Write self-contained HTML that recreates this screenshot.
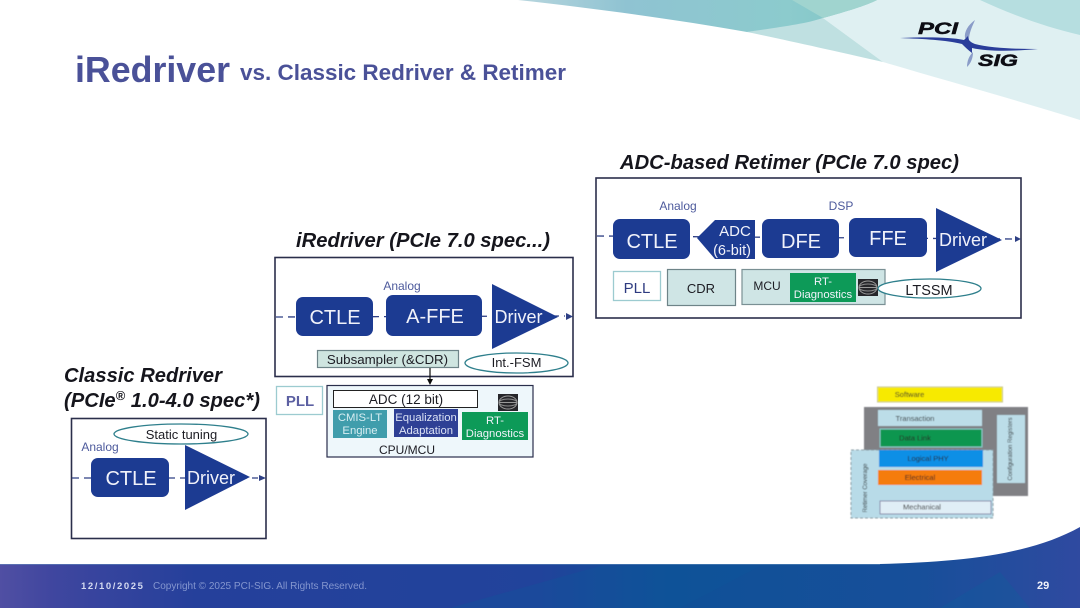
<!DOCTYPE html>
<html><head><meta charset="utf-8"><style>
html,body{margin:0;padding:0;background:#fff;width:1080px;height:608px;overflow:hidden}
svg{display:block}
text{font-family:"Liberation Sans",sans-serif}
.w{fill:#f0f2fa;text-anchor:middle}
.k{fill:#1c1c24;text-anchor:middle}
.h{font-weight:bold;font-style:italic;fill:#15151c;font-size:20.5px}
.a{fill:#4d5a9c;font-size:12px;text-anchor:middle}
.n{fill:#1f3a92}
.d{stroke:#2f3f85;stroke-width:1.3;stroke-dasharray:7 5;fill:none}
.b{fill:#fff;stroke:#2c2d4c;stroke-width:1.6}
.e{fill:#fff;stroke:#2f7f8c;stroke-width:1.3}
.s{font-size:7.5px;fill:#222;text-anchor:middle}
</style></head><body>
<svg width="1080" height="608" viewBox="0 0 1080 608" xmlns="http://www.w3.org/2000/svg">
<defs>
<linearGradient id="t" x1="0" x2="1" y1="0" y2="0"><stop offset="0" stop-color="#b8d6de"/><stop offset=".3" stop-color="#8fc3d2"/><stop offset=".75" stop-color="#8ccbcd"/><stop offset="1" stop-color="#7fc4c4"/></linearGradient>
<linearGradient id="f" x1="0" x2="1" y1="0" y2="0"><stop offset="0" stop-color="#504fa3"/><stop offset=".05" stop-color="#3f469f"/><stop offset=".18" stop-color="#25409b"/><stop offset=".5" stop-color="#21439b"/><stop offset=".62" stop-color="#0f5097"/><stop offset=".85" stop-color="#174f9a"/><stop offset="1" stop-color="#2f4aa0"/></linearGradient>
<filter id="bl"><feGaussianBlur stdDeviation=".5"/></filter>
<filter id="bs"><feGaussianBlur stdDeviation=".3"/></filter>
<g id="eye"><rect width="20" height="17" fill="#26262a"/><ellipse cx="10" cy="8.5" rx="9" ry="6.5" fill="none" stroke="#9a9a9a" stroke-width="1"/><ellipse cx="10" cy="8.5" rx="9" ry="3.5" fill="none" stroke="#8a8a8a" stroke-width="1"/><line x1="1" x2="19" y1="8.5" y2="8.5" stroke="#999" stroke-width="1"/></g>
</defs>

<!-- top swooshes -->
<path d="M792 0 L1080 0 L1080 120 C1010 98 940 79 883 62 L823 18 Z" fill="#dff0f2"/>
<path d="M747 32 L823 18 L883 62 C830 50 790 41 747 32 Z" fill="#bfe0e1"/>
<path d="M518 0 C600 9 680 20 747 32 C780 27 805 24 823 18 C848 11 865 6 877 0 Z" fill="url(#t)"/>
<path d="M792 0 L877 0 C865 6 848 11 823 18 Z" fill="#a0d4cf"/>
<path d="M980 0 C1010 14 1045 27 1080 35 L1080 0 Z" fill="#b6dee0"/>

<!-- logo -->
<g filter="url(#bs)">
<path d="M975 20 C968 25 964 32 965 38 L969 40 C969 33 972 27 975 20 Z" fill="#8a9cc8"/>
<path d="M973 52 C969 56 967 61 967 67 C971 63 973 58 973 52 Z" fill="#8a9cc8"/>
<path d="M900 38 C925 37 950 37 964 40 L968 36 C968 40 970 42 975 44 C990 48 1015 49 1038 49 C1015 51 990 52 972 48 L972 53 C968 50 965 47 962 44 C945 40 925 39 900 38 Z" fill="#2a3d9a"/>
</g>
<text x="918" y="34" font-size="16.7" font-weight="bold" font-style="italic" fill="#0d0d14" stroke="#0d0d14" stroke-width=".5" textLength="40" lengthAdjust="spacingAndGlyphs">PCI</text>
<text x="978" y="66" font-size="16.7" font-weight="bold" font-style="italic" fill="#0d0d14" stroke="#0d0d14" stroke-width=".5" textLength="40" lengthAdjust="spacingAndGlyphs">SIG</text>

<!-- title -->
<text x="75" y="82" font-size="35.7" font-weight="bold" fill="#4a5198" textLength="155" lengthAdjust="spacingAndGlyphs">iRedriver</text>
<text x="240" y="80" font-size="22" font-weight="bold" fill="#4a5198" textLength="326" lengthAdjust="spacingAndGlyphs">vs. Classic Redriver &amp; Retimer</text>

<!-- headings -->
<text class="h" x="620" y="169" textLength="339" lengthAdjust="spacingAndGlyphs">ADC-based Retimer (PCIe 7.0 spec)</text>
<text class="h" x="296" y="247" textLength="254" lengthAdjust="spacingAndGlyphs">iRedriver (PCIe 7.0 spec...)</text>
<text class="h" x="64" y="382" textLength="158" lengthAdjust="spacingAndGlyphs">Classic Redriver</text>
<text class="h" x="64" y="407" textLength="196" lengthAdjust="spacingAndGlyphs">(PCIe<tspan font-size="13" dy="-7">®</tspan><tspan dy="7"> 1.0-4.0 spec*)</tspan></text>

<g filter="url(#bs)">
<!-- Retimer -->
<rect class="b" x="596" y="178" width="425" height="140"/>
<line class="d" x1="597" x2="1014" y1="236" y2="239"/>
<path d="M1015 236 L1021 239 L1015 242 Z" fill="#2f3f85"/>
<text class="a" x="678" y="210">Analog</text>
<text class="a" x="841" y="210">DSP</text>
<rect class="n" x="613" y="219" width="77" height="40" rx="7"/>
<text class="w" x="652" y="248" font-size="20">CTLE</text>
<path class="n" d="M697 238 L715 220 L755 220 L755 259 L715 259 Z"/>
<text class="w" x="735" y="236" font-size="15">ADC</text>
<text class="w" x="732" y="255" font-size="14.5">(6-bit)</text>
<rect class="n" x="762" y="219" width="77" height="39" rx="7"/>
<text class="w" x="801" y="248" font-size="20">DFE</text>
<rect class="n" x="849" y="218" width="78" height="39" rx="7"/>
<text class="w" x="888" y="245" font-size="20">FFE</text>
<path class="n" d="M936 208 L1002 240 L936 272 Z"/>
<text class="w" x="963" y="246" font-size="18">Driver</text>
<rect x="613.5" y="271.5" width="47" height="29" fill="#fff" stroke="#9ccbd0" stroke-width="1.3"/>
<text x="637" y="293" font-size="15" fill="#2d3a80" text-anchor="middle">PLL</text>
<rect x="667.5" y="269.5" width="68" height="36" fill="#cfe5e5" stroke="#6e8488" stroke-width="1.2"/>
<text class="k" x="701" y="293" font-size="13">CDR</text>
<rect x="742" y="269.5" width="143" height="35" fill="#cfe5e5" stroke="#7a9094" stroke-width="1.2"/>
<text class="k" x="767" y="290" font-size="12">MCU</text>
<rect x="790" y="273" width="66" height="29" fill="#0f9a58"/>
<text class="w" x="823" y="285" font-size="11.3">RT-</text>
<text class="w" x="823" y="298" font-size="11.3">Diagnostics</text>
<use href="#eye" transform="translate(858,279)"/>
<ellipse class="e" cx="929.5" cy="288.5" rx="51.5" ry="9.5"/>
<text class="k" x="929" y="295" font-size="14.5">LTSSM</text>

<!-- iRedriver -->
<rect class="b" x="275" y="257.5" width="298" height="119"/>
<line class="d" x1="276" x2="565" y1="317" y2="316"/>
<path d="M566 313 L573 316.5 L566 320 Z" fill="#2f3f85"/>
<text class="a" x="402" y="290">Analog</text>
<rect class="n" x="296" y="297" width="77" height="39" rx="7"/>
<text class="w" x="335" y="324" font-size="20">CTLE</text>
<rect class="n" x="386" y="295" width="96" height="41" rx="7"/>
<text class="w" x="435" y="323" font-size="20">A-FFE</text>
<path class="n" d="M492 284 L558 317 L492 349 Z"/>
<text class="w" x="518.5" y="323" font-size="18">Driver</text>
<rect x="317.5" y="350.5" width="141" height="17" fill="#cfe5e0" stroke="#6e8488" stroke-width="1.2"/>
<text class="k" x="387.5" y="364" font-size="13.3">Subsampler (&amp;CDR)</text>
<ellipse class="e" cx="516.5" cy="363" rx="51.5" ry="10"/>
<text class="k" x="516.5" y="367" font-size="13">Int.-FSM</text>
<line x1="430" x2="430" y1="368" y2="380" stroke="#111" stroke-width="1.2"/>
<path d="M427 379 L433 379 L430 385 Z" fill="#111"/>
<rect x="276.5" y="386.5" width="46" height="28" fill="#fff" stroke="#9ccbd0" stroke-width="1.3"/>
<text x="300" y="406" font-size="15" font-weight="bold" fill="#4a5198" text-anchor="middle" opacity=".9">PLL</text>
<rect x="327" y="385.5" width="206" height="71.5" fill="#eef7fb" stroke="#2c2d4c" stroke-width="1.2"/>
<rect x="333.5" y="390.5" width="144" height="17" fill="#fff" stroke="#222" stroke-width="1"/>
<text class="k" x="406" y="404" font-size="13.5">ADC (12 bit)</text>
<use href="#eye" transform="translate(498,394)"/>
<rect x="333" y="410" width="54" height="28" fill="#3f9dac"/>
<text x="360" y="421" font-size="11.3" fill="#d8eef2" text-anchor="middle">CMIS-LT</text>
<text x="360" y="434" font-size="11.3" fill="#d8eef2" text-anchor="middle">Engine</text>
<rect x="394" y="409" width="64" height="28" fill="#2d3f95"/>
<text x="426" y="421" font-size="11.3" fill="#dbe2f5" text-anchor="middle">Equalization</text>
<text x="426" y="434" font-size="11.3" fill="#dbe2f5" text-anchor="middle">Adaptation</text>
<rect x="462" y="412" width="66" height="28" fill="#0f9a58"/>
<text class="w" x="495" y="424" font-size="11.3">RT-</text>
<text class="w" x="495" y="437" font-size="11.3">Diagnostics</text>
<text class="k" x="407" y="454" font-size="12">CPU/MCU</text>

<!-- Classic -->
<rect class="b" x="71.5" y="418.5" width="194.5" height="120"/>
<line class="d" x1="72" x2="258" y1="478" y2="478"/>
<path d="M259 475 L266 478 L259 481 Z" fill="#2f3f85"/>
<text class="a" x="100" y="451">Analog</text>
<rect class="n" x="91" y="458" width="78" height="39" rx="7"/>
<text class="w" x="131" y="485" font-size="20">CTLE</text>
<path class="n" d="M185 445 L250 477 L185 510 Z"/>
<text class="w" x="211" y="484" font-size="18">Driver</text>
<ellipse class="e" cx="181" cy="434" rx="67" ry="10"/>
<text class="k" x="181.5" y="439" font-size="13">Static tuning</text>
</g>

<!-- stack -->
<g filter="url(#bl)">
<rect x="877.5" y="387" width="125" height="15" fill="#f7ea00" stroke="#c9c98a"/>
<text class="s" x="909.5" y="397">Software</text>
<rect x="864" y="407" width="164" height="89" fill="#808084"/>
<rect x="878" y="410" width="104" height="16" fill="#bcdde8"/>
<text class="s" x="915" y="421">Transaction</text>
<rect x="880" y="429" width="102" height="18" fill="#0b9650" stroke="#8cc"/>
<text class="s" x="915" y="440.5">Data Link</text>
<rect x="997" y="415" width="28" height="68" fill="#bcdde8"/>
<text class="s" transform="translate(1012,449) rotate(-90)" textLength="63" lengthAdjust="spacingAndGlyphs" style="font-size:6.5px">Configuration Registers</text>
<rect x="851" y="450" width="142" height="68" fill="#b8dbe8" stroke="#8a9aa0" stroke-dasharray="3 2"/>
<text class="s" transform="translate(867,488) rotate(-90)" textLength="49" lengthAdjust="spacingAndGlyphs" style="font-size:6.5px">Retimer Coverage</text>
<rect x="879" y="450" width="104" height="17" fill="#0d8fe6"/>
<text class="s" x="928" y="461" fill="#14245c">Logical PHY</text>
<rect x="878" y="470" width="104" height="15" fill="#f57b10"/>
<text class="s" x="920" y="480" fill="#701800">Electrical</text>
<rect x="880" y="501" width="111" height="13" fill="#e0eef6" stroke="#88a"/>
<text class="s" x="922" y="509.5">Mechanical</text>
</g>

<!-- footer -->
<path d="M0 564 L880 564 C960 562 1030 555 1080 527 L1080 608 L0 608 Z" fill="url(#f)"/>
<path d="M450 608 L600 566 L760 566 L680 608 Z" fill="#0d5a9a" opacity=".3"/>
<path d="M940 608 L1000 572 L1030 608 Z" fill="#0c5f9c" opacity=".3"/>
<line x1="0" x2="880" y1="564.5" y2="564.5" stroke="#6f9cc4" stroke-width=".8" opacity=".6"/>
<text x="81" y="589" font-size="9.5" font-weight="bold" fill="#d4daf0" letter-spacing="1.6">12/10/2025</text>
<text x="153" y="589" font-size="10.2" fill="#8496cf" textLength="214" lengthAdjust="spacingAndGlyphs">Copyright © 2025 PCI-SIG. All Rights Reserved.</text>
<text x="1037" y="589" font-size="11" font-weight="bold" fill="#f0f2fa">29</text>
</svg>
</body></html>
